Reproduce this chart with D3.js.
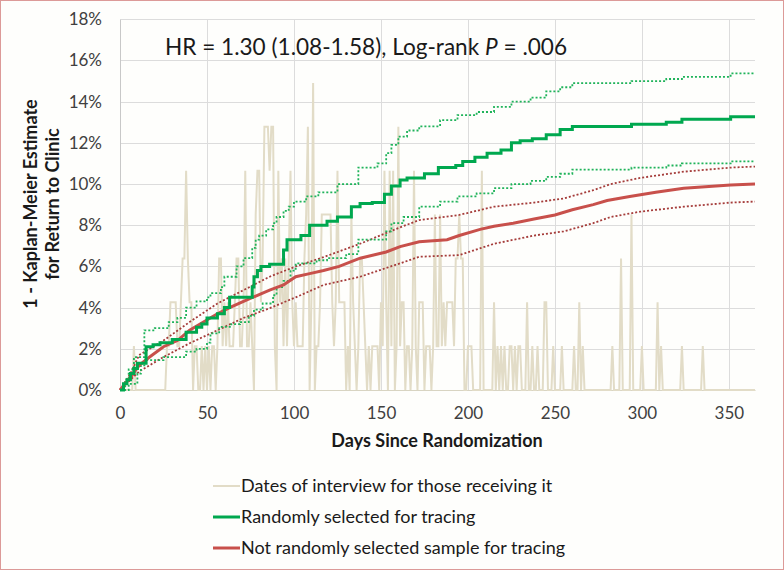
<!DOCTYPE html>
<html><head><meta charset="utf-8">
<script src="https://cdn.jsdelivr.net/npm/d3@7"></script>
<style>body{margin:0;background:#fff}svg{display:block}</style>
</head><body><svg id="c" width="784" height="570"></svg>
<script>
// ---------- DATA ----------
const xTicks = [0, 50, 100, 150, 200, 250, 300, 350];
const yTicks = [0, 2, 4, 6, 8, 10, 12, 14, 16, 18];
const titleText = "HR = 1.30 (1.08-1.58), Log-rank ";
const legendLabels = ["Dates of interview for those receiving it", "Randomly selected for tracing", "Not randomly selected sample for tracing"];

// number of interviews per day (day 0..365); one interview ≈ 2.13% on the axis
const interviewUnit = 2.13;
const interviewCounts = [
 0,0,0,0,0,0,0,0,1,0,  0,0,0,0,0,0,0,0,0,0,  0,0,0,0,0,0,0,1,1,2,
 2,2,2,1,1,2,3,3,5,3,  2,2,0,1,1,0,0,1,0,1,  0,1,0,1,1,0,1,3,3,1,
 2,1,2,1,1,1,2,3,3,1,  1,2,5,1,1,2,1,0,4,5,  5,2,3,6,6,6,5,6,6,1,
 0,5,2,3,1,3,1,3,5,2,  1,2,1,1,1,1,3,4,6,0,  2,7,0,1,1,2,4,4,4,4,
 4,4,2,1,2,5,2,2,2,2,  0,1,0,4,2,1,0,1,3,3,  2,1,0,1,0,1,1,1,1,0,
 2,1,5,2,0,5,1,5,0,1,  6,1,2,2,0,1,1,0,1,5,  1,0,2,2,2,0,1,1,1,0,
 1,4,1,1,4,1,2,1,2,2,  2,2,1,3,3,4,3,3,0,0,  1,1,1,0,0,0,0,0,5,0,
 0,0,0,0,0,2,0,1,0,1,  0,1,0,0,1,1,0,1,0,1,  1,0,0,0,2,0,0,1,0,0,
 1,0,0,0,2,2,0,0,0,1,  0,0,0,0,1,0,0,0,0,0,  0,1,0,0,2,0,1,0,0,0,
 0,0,0,0,0,0,0,0,0,0,  0,0,0,1,0,0,0,0,3,0,  0,0,0,0,4,0,0,0,0,0,
 1,0,0,0,0,0,0,0,0,2,  0,1,0,0,0,0,0,0,0,0,  0,0,0,1,0,0,0,0,0,0,
 0,0,0,0,0,1,0,0,0,0,  0,0,0,0,0,0,0,0,0,0,  0,0,0,0,0,0,0,0,0,0,
 0,0,0,0,0,0
];

// Randomly selected for tracing (step curve, 1 - KM, %)
const greenDays = [0,2,4,6,8,10,15,19,23,30,38,44,47,50,56,60,63,76,77,79,81,86,94,96,104,109,119,125,133,138,145,152,156,161,165,175,183,193,197,204,211,219,225,230,237,245,253,260,294,314,323,351,365];
const greenVals = [0,0.3,0.5,0.8,1.05,1.3,2.1,2.2,2.3,2.45,2.8,3.05,3.2,3.5,3.7,4.0,4.5,5.0,5.5,5.8,6.0,6.1,6.8,7.3,7.5,8.0,8.2,8.4,8.9,9.05,9.1,9.5,9.9,10.2,10.3,10.5,10.8,10.9,11.1,11.3,11.5,11.65,12.0,12.1,12.2,12.4,12.65,12.8,12.9,13.0,13.15,13.27,13.27];
const greenUpDays = [0,3,5,8,14,20,28,33,38,44,50,52,58,60,67,71,76,78,80,84,88,90,94,97,100,107,114,125,137,148,153,156,160,165,172,184,194,205,215,225,236,245,253,260,294,314,323,351,365];
const greenUpVals = [0,0.5,1.0,1.6,2.9,3.0,3.3,3.5,4.0,4.3,4.5,4.7,5.0,5.5,6.0,6.4,6.9,7.3,7.5,7.8,8.1,8.4,8.7,8.9,9.15,9.4,9.6,10.0,10.8,11.0,11.5,11.9,12.3,12.6,12.8,13.1,13.35,13.5,13.75,14.0,14.2,14.5,14.7,14.9,15.0,15.1,15.2,15.37,15.37];
const greenLoDays = [0,5,10,12,15,25,38,44,50,52,57,64,69,74,77,82,88,90,94,98,101,113,119,130,137,153,156,163,172,184,194,205,215,225,236,245,253,260,294,314,323,351,365];
const greenLoVals = [0,0.3,0.8,1.2,1.45,1.6,1.86,2.0,2.3,2.75,3.07,3.2,3.3,3.6,3.9,4.2,4.6,5.0,5.3,5.8,6.15,6.3,6.4,6.6,7.3,7.7,8.1,8.4,8.9,9.15,9.4,9.55,9.8,10.0,10.15,10.35,10.5,10.7,10.8,10.9,11.0,11.1,11.1];

// Not randomly selected sample for tracing
const redDays = [0,6,11,17,25,33,40,48,56,63,71,79,86,94,101,109,117,126,138,153,161,172,188,195,207,215,226,238,250,260,272,280,293,308,324,351,365];
const redVals = [0,0.6,1.2,1.6,2.1,2.4,2.9,3.3,3.7,4.0,4.3,4.6,4.85,5.1,5.5,5.65,5.8,6.0,6.4,6.7,6.96,7.2,7.3,7.5,7.8,7.95,8.1,8.3,8.5,8.75,9.0,9.2,9.4,9.6,9.8,9.95,10.0];
const redUpDays = [0,6,11,25,40,56,71,86,101,117,138,161,172,195,215,238,255,272,282,299,324,351,365];
const redUpVals = [0,0.8,1.7,2.4,3.3,4.2,4.85,5.5,6.0,6.45,7.1,7.9,8.25,8.5,8.9,9.1,9.3,9.7,10.0,10.3,10.6,10.8,10.85];
const redLoDays = [0,11,25,40,56,71,86,101,117,138,161,172,195,215,238,255,272,282,299,324,351,365];
const redLoVals = [0,0.9,1.6,2.27,2.9,3.5,3.97,4.5,5.1,5.5,6.15,6.47,6.55,7.1,7.5,7.7,8.1,8.4,8.66,8.9,9.1,9.15];

// ---------- CHART ----------
const svg = d3.select("#c");
const W = 784, H = 570;
const L = 120, R = 755, T = 19.3, B = 390;
const font = "Lato, 'Open Sans', sans-serif";

svg.append("rect").attr("x",0.5).attr("y",0.5).attr("width",W-1).attr("height",H-1)
  .attr("fill","#fefefc").attr("stroke","#dc9a98").attr("stroke-width",1);

const x = d3.scaleLinear().domain([0,365]).range([L,R]);
const y = d3.scaleLinear().domain([0,18]).range([B,T]);
const yCount = d3.scaleLinear().domain([0,18/interviewUnit]).range([B,T]);

// grid
const g = svg.append("g");
g.selectAll("line.h").data(yTicks).join("line")
  .attr("x1",L).attr("x2",R).attr("y1",d=>Math.round(y(d))+0.5).attr("y2",d=>Math.round(y(d))+0.5)
  .attr("stroke","#dcdcdc").attr("stroke-width",1);
g.selectAll("line.v").data(xTicks).join("line")
  .attr("y1",T).attr("y2",B).attr("x1",d=>Math.round(x(d))+0.5).attr("x2",d=>Math.round(x(d))+0.5)
  .attr("stroke","#dcdcdc").attr("stroke-width",1);

// axes (labels only)
const yAxis = d3.axisLeft(y).tickValues(yTicks).tickFormat(d=>d+"%").tickSize(0).tickPadding(18);
const ya = svg.append("g").attr("transform",`translate(${L},0)`).call(yAxis);
ya.select(".domain").attr("stroke","#c8c8c8");
ya.selectAll("text").attr("font-family",font).attr("font-size",17).attr("fill","#404040");

const xAxis = d3.axisBottom(x).tickValues(xTicks).tickSize(0).tickPadding(17);
const xa = svg.append("g").attr("transform",`translate(0,${B})`).call(xAxis);
xa.select(".domain").attr("stroke","#d8d4c2");
xa.selectAll("text").attr("font-family",font).attr("font-size",17).attr("fill","#404040");

// interview counts line
const lineCount = d3.line().x((d,i)=>x(i)).y(d=>yCount(d));
svg.append("path").datum(interviewCounts).attr("d",lineCount)
  .attr("fill","none").attr("stroke","#e2dcc7").attr("stroke-width",2);

function pts(ds, vs){ return ds.map((d,i)=>[d,vs[i]]); }
const stepLine = d3.line().x(d=>x(d[0])).y(d=>y(d[1])).curve(d3.curveStepAfter);
const linLine = d3.line().x(d=>x(d[0])).y(d=>y(d[1]));

// red CIs
svg.append("path").datum(pts(redUpDays,redUpVals)).attr("d",linLine)
  .attr("fill","none").attr("stroke","#a53c3a").attr("stroke-width",1.8).attr("stroke-dasharray","2,2");
svg.append("path").datum(pts(redLoDays,redLoVals)).attr("d",linLine)
  .attr("fill","none").attr("stroke","#a53c3a").attr("stroke-width",1.8).attr("stroke-dasharray","2,2");
// green CIs
svg.append("path").datum(pts(greenUpDays,greenUpVals)).attr("d",stepLine)
  .attr("fill","none").attr("stroke","#1fb35a").attr("stroke-width",1.8).attr("stroke-dasharray","2,2");
svg.append("path").datum(pts(greenLoDays,greenLoVals)).attr("d",stepLine)
  .attr("fill","none").attr("stroke","#1fb35a").attr("stroke-width",1.8).attr("stroke-dasharray","2,2");
// main curves
svg.append("path").datum(pts(redDays,redVals)).attr("d",linLine)
  .attr("fill","none").attr("stroke","#c8504b").attr("stroke-width",3);
svg.append("path").datum(pts(greenDays,greenVals)).attr("d",stepLine)
  .attr("fill","none").attr("stroke","#00a84f").attr("stroke-width",3);

// title annotation
const t = svg.append("text").attr("x",165).attr("y",55).attr("font-family",font)
  .attr("font-size",22.6).attr("fill","#1a1a1a");
t.append("tspan").text(titleText);
t.append("tspan").attr("font-style","italic").text("P");
t.append("tspan").text(" = .006");

// axis titles
svg.append("text").attr("x",437).attr("y",447).attr("text-anchor","middle")
  .attr("font-family",font).attr("font-weight","bold").attr("font-size",18).attr("fill","#1a1a1a")
  .text("Days Since Randomization");
const yt = svg.append("text").attr("transform","translate(37,204) rotate(-90)").attr("text-anchor","middle")
  .attr("font-family",font).attr("font-weight","bold").attr("font-size",18).attr("fill","#1a1a1a");
yt.append("tspan").attr("x",0).attr("y",0).text("1 - Kaplan-Meier Estimate");
yt.append("tspan").attr("x",0).attr("y",22).text("for Return to Clinic");

// legend
const legColors = ["#e2dcc7","#00a84f","#c8504b"];
const legW = [2,3,3];
const lg = svg.append("g");
legendLabels.forEach((lab,i)=>{
  const yy = 486 + i*31;
  lg.append("line").attr("x1",213).attr("x2",240).attr("y1",yy).attr("y2",yy)
    .attr("stroke",legColors[i]).attr("stroke-width",legW[i]);
  lg.append("text").attr("x",241).attr("y",yy).attr("dy","0.35em")
    .attr("font-family",font).attr("font-size",18).attr("fill","#1a1a1a").text(lab);
});
</script></body></html>
